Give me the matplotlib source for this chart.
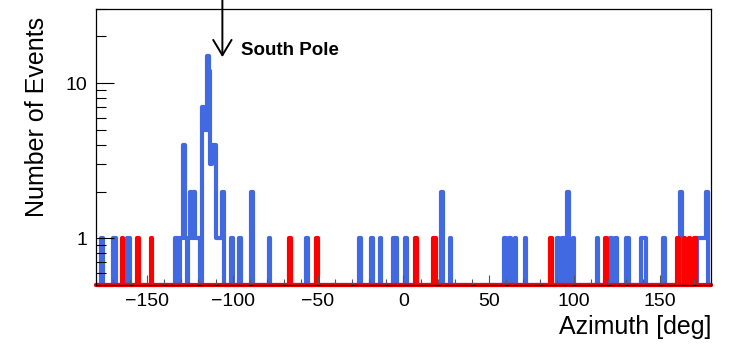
import matplotlib

matplotlib.use("Agg")
import matplotlib.pyplot as plt
import numpy as np
from matplotlib.ticker import LogLocator, NullFormatter, MultipleLocator

plt.rcParams["font.family"] = ["Liberation Sans", "DejaVu Sans"]

# 1-degree bins, left edge of each filled bin and its count
blue_bins = [-177, -170, -169, -162, -161,
             -134, -133, -131, -130, -129, -128, -126, -125, -124,
             -123, -122, -121, -120, -118, -117, -116, -115, -114, -113, -112,
             -111, -110, -109, -108, -107, -106, -101, -96, -89, -79,
             -57, -26, -19, -14, -6, -5, 1, 22, 27,
             59, 62, 65, 71, 90, 93, 96, 99,
             113, 121, 124, 130, 131, 139, 140, 141, 152, 162,
             172, 173, 174, 175, 176, 177]
blue_vals = [1, 1, 1, 1, 1,
             1, 1, 1, 1, 4, 1, 1, 2, 1,
             2, 1, 1, 1, 7, 6, 5, 15, 12, 3, 4,
             4, 1, 1, 1, 1, 2, 1, 1, 2, 1,
             1, 1, 1, 1, 1, 1, 1, 2, 1,
             1, 1, 1, 1, 1, 1, 2, 1,
             1, 1, 1, 1, 1, 1, 1, 1, 1, 2,
             1, 1, 1, 1, 1, 2]

red_bins = [-165, -156, -148, -67, -51, 7, 17, 18, 86, 118, 160, 164, 167, 170]
red_vals = [1] * len(red_bins)

edges = np.arange(-180, 181, 1)
y_min, y_max = 0.5, 30
south_pole = -106


def fill_hist(bins, vals):
    counts = np.zeros(len(edges) - 1)
    for b, v in zip(bins, vals):
        counts[b + 180] += v
    # empty bins sit on the frame bottom, like a ROOT log plot
    return np.where(counts > 0, counts, y_min)


fig = plt.figure(figsize=(7.48, 3.44), dpi=100)
ax = fig.add_axes([0.1283, 0.1715, 0.8222, 0.8023])

for bins, vals, col in [(blue_bins, blue_vals, "#4169E1"),
                        (red_bins, red_vals, "#FF0000")]:
    st = ax.stairs(fill_hist(bins, vals), edges, baseline=None,
                   color=col, linewidth=3.0, clip_on=False)
    st.set_joinstyle("round")
    st.set_capstyle("round")

ax.set_yscale("log")
ax.set_xlim(-180, 180)
ax.set_ylim(y_min, y_max)

ax.set_yticks([1, 10])
ax.set_yticklabels(["1", "10"])
ax.yaxis.set_minor_locator(LogLocator(base=10, subs=np.arange(2, 10)))
ax.yaxis.set_minor_formatter(NullFormatter())
ax.xaxis.set_major_locator(MultipleLocator(50))
ax.xaxis.set_minor_locator(MultipleLocator(10))

ax.tick_params(axis="y", which="major", direction="in", length=13, width=0.8,
               labelsize=14, pad=6)
ax.tick_params(axis="y", which="minor", direction="in", length=7, width=0.8)
ax.tick_params(axis="x", which="major", direction="in", length=7, width=0.8,
               labelsize=14, pad=6, color="#555555")
ax.tick_params(axis="x", which="minor", direction="in", length=4, width=0.8,
               color="#555555")
for s in ax.spines.values():
    s.set_linewidth(0.9)

ax.set_xlabel("Azimuth [deg]", fontsize=18, loc="right", labelpad=3)
fig.text(0.05, 0.952, "Number of Events", rotation=90, fontsize=18,
         ha="center", va="top")

# South Pole marker
ax.annotate("", xy=(south_pole, 14.7), xytext=(south_pole, 35),
            arrowprops=dict(arrowstyle="->,head_length=0.55,head_width=0.33",
                            mutation_scale=20, color="black", lw=1.4,
                            shrinkA=0, shrinkB=0),
            annotation_clip=False)
ax.text(south_pole + 11, 14.2, "South Pole", fontsize=13.5, fontweight="bold",
        ha="left", va="bottom")

fig.savefig("out.png", facecolor="white")
plt.close(fig)
